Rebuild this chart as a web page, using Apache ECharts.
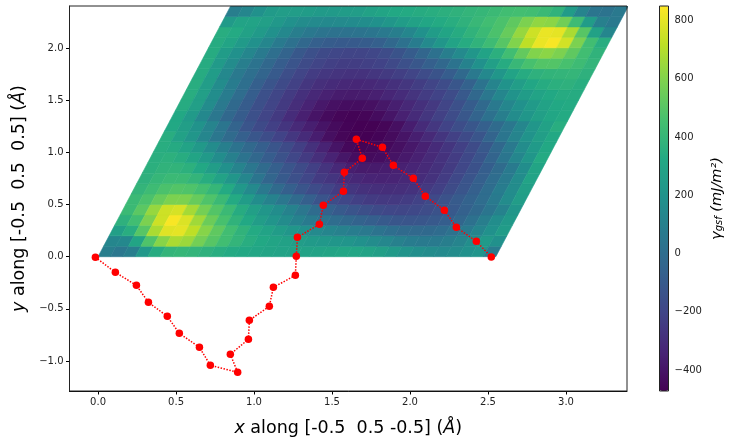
<!DOCTYPE html>
<html>
<head>
<meta charset="utf-8">
<style>html,body{margin:0;padding:0;background:#fff}#c{width:736px;height:445px}</style>
<script src="https://cdn.jsdelivr.net/npm/echarts@6/dist/echarts.min.js"></script>
</head>
<body>
<div id="c"></div>
<script>
// gamma_gsf estimated at cell centres of the parallelogram, bottom row first
const row00=[90,50,90,230,340,390,400,390,370,350,330,320,310,300,290,285,285,290,300,310,310,295,270,240,205,180,160,150,160,190,210,80];
const row01=[130,140,300,480,610,680,650,570,500,440,390,350,320,300,280,260,240,230,220,210,190,165,135,105,80,70,70,90,120,175,240,190];
const row02=[270,350,500,680,790,800,720,610,520,440,380,330,290,255,215,185,150,125,105,85,60,30,5,-15,-25,-20,-5,25,70,125,190,250];
const row03=[370,440,590,750,840,780,660,550,460,380,320,260,210,160,110,70,30,0,-30,-55,-75,-100,-120,-125,-120,-105,-80,-40,20,90,170,235];
const row04=[420,510,640,750,770,670,570,490,420,340,270,220,170,110,50,-5,-60,-100,-130,-155,-180,-195,-200,-190,-170,-140,-105,-65,-20,40,110,220];
const row05=[420,470,540,590,590,540,480,420,330,250,170,110,50,-10,-70,-130,-165,-195,-225,-245,-255,-255,-240,-215,-185,-140,-95,-55,0,70,160,260];
const row06=[390,430,470,490,480,450,400,330,230,150,60,-10,-70,-125,-170,-205,-240,-265,-285,-295,-300,-295,-280,-255,-225,-175,-125,-70,0,80,160,270];
const row07=[370,400,420,420,390,345,285,215,130,40,-40,-100,-150,-195,-245,-270,-305,-325,-340,-345,-340,-325,-305,-280,-240,-190,-130,-70,0,70,160,290];
const row08=[360,380,385,365,320,260,190,120,50,-10,-70,-125,-175,-225,-275,-320,-360,-375,-375,-365,-350,-335,-315,-285,-245,-195,-145,-80,-10,70,170,300];
const row09=[355,365,345,300,240,170,100,30,-30,-85,-140,-195,-245,-295,-345,-390,-425,-435,-425,-405,-380,-350,-315,-280,-240,-190,-130,-50,40,130,220,330];
const row10=[350,335,290,235,165,95,30,-25,-75,-125,-175,-230,-285,-345,-400,-445,-462,-455,-440,-415,-385,-350,-310,-270,-225,-175,-110,-30,60,160,240,320];
const row11=[350,280,220,130,50,-10,-70,-120,-165,-210,-260,-310,-365,-420,-455,-470,-472,-460,-435,-400,-360,-315,-270,-225,-180,-125,-50,40,120,200,265,320];
const row12=[320,265,200,120,40,-50,-125,-180,-225,-270,-315,-360,-400,-435,-460,-472,-470,-455,-420,-365,-310,-260,-210,-165,-120,-70,-10,50,130,220,280,350];
const row13=[320,240,140,50,-30,-90,-150,-205,-250,-305,-355,-400,-435,-455,-462,-455,-430,-395,-350,-310,-265,-220,-170,-115,-50,20,90,160,220,270,310,330];
const row14=[340,270,160,60,-20,-90,-155,-205,-250,-300,-345,-385,-410,-425,-425,-415,-390,-360,-325,-290,-255,-205,-150,-90,-20,60,130,190,240,285,320,330];
const row15=[350,270,170,80,0,-80,-150,-200,-245,-290,-325,-350,-370,-375,-370,-355,-330,-305,-275,-240,-210,-170,-105,-30,50,130,200,250,290,320,340,340];
const row16=[350,260,160,80,10,-70,-130,-180,-220,-265,-295,-310,-325,-330,-325,-310,-290,-265,-235,-205,-170,-120,-60,30,120,200,260,310,340,360,370,350];
const row17=[340,250,140,60,10,-45,-100,-160,-205,-240,-260,-275,-280,-280,-265,-250,-230,-205,-170,-135,-85,-20,60,140,220,290,340,370,385,390,395,370];
const row18=[340,240,160,90,30,-30,-85,-130,-175,-205,-225,-235,-235,-225,-210,-185,-150,-115,-70,-30,30,110,190,270,340,410,460,490,490,460,430,390];
const row19=[340,250,190,130,70,10,-50,-110,-150,-180,-195,-205,-205,-195,-170,-135,-90,-40,20,90,150,220,290,360,440,530,600,620,590,520,440,380];
const row20=[340,300,240,190,130,70,20,-30,-70,-90,-100,-100,-90,-70,-30,20,80,150,220,290,340,380,430,500,600,720,810,840,760,590,440,350];
const row21=[350,330,280,240,190,140,90,55,35,25,25,30,40,60,90,130,190,250,300,340,380,420,470,540,640,750,810,800,680,500,280,130];
const row22=[240,290,290,270,230,190,160,150,145,150,155,170,190,220,250,280,310,330,350,375,410,440,470,520,590,630,620,560,430,250,100,60];
const row23=[90,130,190,240,260,260,250,240,240,250,260,280,300,320,330,340,350,360,375,390,400,420,440,450,440,420,380,250,120,40,30,60];
const valueRows=[row00,row01,row02,row03,row04,row05,row06,row07,row08,row09,row10,row11,row12,row13,row14,row15,row16,row17,row18,row19,row20,row21,row22,row23];

// lattice vectors of the plotted cell
const cellA=[2.55,0];
const cellB=[0.85,2.404];

// path of red points
const pathX=[-0.017,0.111,0.246,0.323,0.444,0.521,0.650,0.720,0.895,0.848,0.964,0.970,1.098,1.124,1.265,1.271,1.278,1.419,1.444,1.573,1.579,1.694,1.656,1.823,1.893,2.021,2.098,2.220,2.297,2.425,2.521];
const pathY=[-0.006,-0.150,-0.275,-0.438,-0.572,-0.735,-0.869,-1.042,-1.109,-0.936,-0.792,-0.610,-0.476,-0.294,-0.179,0.004,0.186,0.310,0.493,0.627,0.809,0.943,1.125,1.049,0.876,0.751,0.579,0.445,0.282,0.147,-0.003];

const xTicks=[0,0.5,1,1.5,2,2.5,3];
const yTicks=[-1,-0.5,0,0.5,1,1.5,2];
const barTicks=[-400,-200,0,200,400,600,800];
const viridis=['#440154','#482475','#414487','#355f8d','#2a788e','#21918c','#22a884','#44bf70','#7ad151','#bddf26','#fde725'];

const font='DejaVu Sans';
const minus=s=>String(s).replace('-','\u2212');
const nu=valueRows[0].length, nv=valueRows.length;
const du=[cellA[0]/nu,cellA[1]/nu], dv=[cellB[0]/nv,cellB[1]/nv];
const cells=[];
valueRows.forEach((r,v)=>r.forEach((val,u)=>{
  cells.push([(u+.5)*du[0]+(v+.5)*dv[0],(u+.5)*du[1]+(v+.5)*dv[1],val]);
}));
const axisCommon={
  axisLine:{show:true,onZero:false,lineStyle:{color:'#000',width:1}},
  splitLine:{show:false},
};
const chart=echarts.init(document.getElementById('c'),null,{renderer:'canvas'});
chart.setOption({
  animation:false,
  backgroundColor:'#fff',
  grid:[
    {left:69.5,top:6,width:557.5,height:385,show:true,borderColor:'#222',borderWidth:1,backgroundColor:'transparent',z:3},
    {left:659.5,top:6,width:9,height:385,show:true,borderColor:'#222',borderWidth:1,backgroundColor:'transparent',z:6}
  ],
  xAxis:[
    Object.assign({},axisCommon,{type:'value',gridIndex:0,min:-0.183,max:3.391,
      axisTick:{show:true,length:3.5,customValues:xTicks,lineStyle:{color:'#000'}},
      axisLabel:{customValues:xTicks,fontFamily:font,fontSize:10,color:'#222',margin:6,formatter:v=>minus(v.toFixed(1))},
      name:'{i|x} along [-0.5  0.5 -0.5] ({i|\u00c5})',nameLocation:'middle',nameGap:28.5,
      nameTextStyle:{fontFamily:font,fontSize:17.5,color:'#000',rich:{i:{fontFamily:font,fontStyle:'italic',fontSize:17.5,color:'#000'}}}
    }),
    {type:'value',gridIndex:1,min:0,max:1,show:false}
  ],
  yAxis:[
    Object.assign({},axisCommon,{type:'value',gridIndex:0,min:-1.288,max:2.404,
      axisTick:{show:true,length:3.5,customValues:yTicks,lineStyle:{color:'#000'}},
      axisLabel:{customValues:yTicks,fontFamily:font,fontSize:10,color:'#222',margin:6,formatter:v=>minus(v.toFixed(1))},
      name:'{i|y} along [-0.5  0.5  0.5] ({i|\u00c5})',nameLocation:'middle',nameGap:39,
      nameTextStyle:{fontFamily:font,fontSize:17.5,color:'#000',rich:{i:{fontFamily:font,fontStyle:'italic',fontSize:17.5,color:'#000'}}}
    }),
    Object.assign({},axisCommon,{type:'value',gridIndex:1,position:'right',min:-472,max:850,
      axisLine:{show:false},
      axisTick:{show:true,length:3.5,customValues:barTicks,lineStyle:{color:'#000'}},
      axisLabel:{customValues:barTicks,fontFamily:font,fontSize:10,color:'#222',margin:6,formatter:v=>minus(v)},
      name:'{g|\u03b3}{s|gsf}{g| (mJ/m\u00b2)}',nameLocation:'middle',nameGap:41,nameRotate:90,
      nameTextStyle:{fontFamily:font,fontSize:14.5,color:'#000',rich:{
        g:{fontFamily:font,fontStyle:'italic',fontSize:14.5,color:'#000'},
        s:{fontFamily:font,fontStyle:'italic',fontSize:10,color:'#000',padding:[5,0,0,0]}}}
    })
  ],
  visualMap:{type:'continuous',seriesIndex:0,dimension:2,min:-472,max:850,calculable:false,
    left:659.5,top:6,itemWidth:9,itemHeight:385,padding:0,text:null,showLabel:false,
    inRange:{color:viridis},hoverLink:false,z:4},
  series:[
    {type:'custom',xAxisIndex:0,yAxisIndex:0,data:cells,clip:true,silent:true,z:2,
      encode:{x:0,y:1},
      renderItem:function(params,api){
        const cx=api.value(0),cy=api.value(1);
        const hx=(du[0]+dv[0])/2,hx2=(du[0]-dv[0])/2,hy=dv[1]/2;
        const pts=[api.coord([cx-hx,cy-hy]),api.coord([cx+hx2,cy-hy]),api.coord([cx+hx,cy+hy]),api.coord([cx-hx2,cy+hy])];
        const c=api.visual('color');
        return {type:'polygon',shape:{points:pts},style:{fill:c,stroke:c,lineWidth:0.6}};
      }},
    {type:'line',xAxisIndex:0,yAxisIndex:0,z:5,silent:true,
      data:pathX.map((x,i)=>[x,pathY[i]]),
      symbol:'circle',symbolSize:7.5,showSymbol:true,
      itemStyle:{color:'#ff0000'},
      lineStyle:{color:'#ff0000',type:'dotted',width:1.5}}
  ]
});
</script>
</body>
</html>
